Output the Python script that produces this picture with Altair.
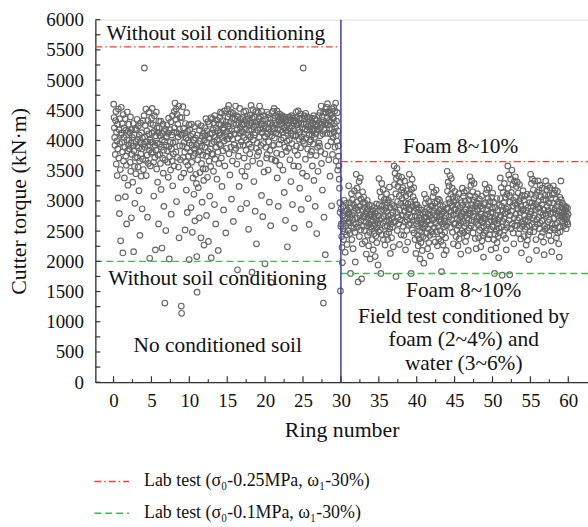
import altair as alt
import pandas as pd

FONT = "Liberation Serif"

# Cutter torque readings, in tens of kN·m, one list per ring (rings 0-29: no conditioning)
LEFT_TORQUE_10 = [
    [460, 438, 421, 405, 392, 377, 433, 448, 361, 414, 399, 342, 427, 386, 305, 452, 371, 418, 279, 395, 436, 352, 234, 409],
    [455, 412, 397, 428, 381, 214, 443, 366, 405, 421, 338, 389, 436, 307, 374, 417, 359, 262, 401, 447, 383, 326, 415, 392],
    [427, 401, 386, 413, 364, 439, 349, 396, 272, 418, 377, 405, 331, 391, 428, 216, 383, 409, 357, 296, 372, 420, 345, 398],
    [418, 391, 435, 372, 402, 356, 424, 388, 317, 409, 366, 243, 397, 429, 378, 341, 413, 386, 287, 404, 369, 433, 352, 394],
    [441, 520, 406, 389, 425, 367, 452, 342, 398, 416, 376, 273, 433, 391, 362, 411, 447, 384, 205, 401, 358, 428, 397, 379],
    [437, 412, 453, 381, 397, 426, 364, 308, 415, 441, 372, 392, 219, 408, 384, 447, 353, 421, 396, 331, 376, 413, 262, 432],
    [421, 394, 377, 408, 362, 432, 319, 389, 412, 222, 401, 371, 427, 346, 384, 291, 415, 398, 131, 368, 419, 251, 392, 406],
    [407, 426, 383, 364, 412, 339, 437, 390, 204, 373, 418, 397, 351, 431, 278, 386, 409, 366, 441, 325, 396, 378, 414, 358],
    [448, 421, 462, 398, 435, 381, 452, 299, 413, 443, 372, 427, 406, 356, 457, 239, 419, 391, 438, 368, 410, 339, 126, 114],
    [438, 409, 391, 456, 372, 420, 346, 397, 412, 381, 252, 428, 365, 404, 318, 446, 387, 281, 415, 359, 401, 374, 426, 203],
    [396, 418, 352, 381, 407, 289, 427, 364, 392, 248, 411, 338, 375, 401, 311, 386, 423, 267, 379, 404, 344, 392, 329, 208],
    [149, 409, 368, 428, 322, 395, 381, 272, 417, 347, 399, 383, 239, 424, 362, 391, 298, 407, 376, 353, 412, 334, 227, 401],
    [421, 389, 408, 353, 436, 374, 276, 416, 397, 339, 431, 382, 233, 404, 366, 427, 308, 411, 386, 357, 438, 206, 395, 378],
    [412, 436, 377, 418, 349, 429, 398, 294, 441, 369, 406, 262, 421, 389, 434, 336, 401, 416, 381, 218, 427, 362, 409, 394],
    [438, 413, 447, 392, 426, 371, 445, 324, 405, 433, 383, 418, 285, 421, 399, 449, 358, 426, 408, 247, 431, 387, 414, 402],
    [452, 424, 439, 403, 458, 378, 419, 444, 343, 408, 431, 389, 447, 303, 416, 437, 366, 402, 445, 266, 428, 393, 411, 384],
    [436, 411, 457, 387, 426, 441, 361, 418, 186, 404, 439, 374, 429, 324, 412, 453, 392, 422, 287, 435, 398, 416, 349, 427],
    [414, 438, 392, 426, 447, 371, 405, 433, 341, 419, 449, 384, 401, 296, 428, 440, 357, 409, 436, 253, 417, 394, 425, 378],
    [442, 406, 429, 458, 389, 418, 182, 437, 366, 451, 401, 423, 332, 439, 409, 431, 283, 413, 448, 387, 229, 426, 396, 375],
    [431, 417, 446, 381, 436, 406, 457, 362, 421, 439, 392, 427, 309, 448, 413, 433, 274, 419, 395, 441, 348, 424, 407, 196],
    [406, 435, 389, 421, 371, 447, 377, 411, 428, 351, 443, 398, 419, 298, 437, 384, 429, 259, 414, 165, 369, 408, 425, 392],
    [448, 419, 437, 392, 453, 404, 429, 367, 441, 412, 366, 426, 379, 449, 338, 419, 439, 291, 411, 431, 394, 444, 359, 417],
    [427, 438, 401, 433, 377, 441, 414, 429, 351, 436, 404, 421, 314, 439, 389, 431, 268, 417, 434, 382, 425, 399, 224, 412],
    [416, 438, 387, 428, 401, 439, 368, 421, 434, 332, 412, 441, 395, 424, 294, 437, 408, 429, 358, 419, 255, 432, 383, 407],
    [433, 408, 447, 391, 426, 438, 376, 418, 449, 357, 429, 402, 436, 321, 414, 444, 388, 427, 286, 437, 406, 421, 346, 399],
    [520, 427, 411, 441, 395, 436, 419, 369, 445, 404, 428, 341, 417, 439, 386, 423, 304, 436, 409, 261, 431, 398, 419, 376],
    [401, 425, 382, 437, 409, 358, 429, 416, 394, 441, 334, 419, 405, 436, 291, 427, 411, 375, 433, 246, 418, 389, 424, 349],
    [419, 441, 396, 429, 391, 446, 408, 421, 382, 457, 362, 427, 439, 318, 411, 433, 131, 447, 273, 417, 428, 378, 211, 452],
    [446, 429, 455, 412, 438, 461, 391, 426, 448, 368, 433, 419, 445, 341, 411, 442, 398, 431, 292, 419, 452, 377, 437, 405],
    [437, 455, 414, 428, 449, 389, 421, 462, 366, 408, 432, 399, 446, 351, 416, 391, 374, 358, 336, 321, 297, 281, 151, 258],
]

# Rings 30-59: field test conditioned by foam and water
RIGHT_TORQUE_10 = [
    [287, 262, 241, 223, 198, 276, 254, 291, 236, 268, 301, 249, 272, 215, 283, 259, 296, 244, 270, 228, 285, 263, 251, 278],
    [325, 281, 264, 297, 246, 273, 180, 289, 258, 312, 236, 277, 302, 269, 221, 294, 255, 283, 317, 248, 271, 199, 288, 262],
    [344, 298, 272, 321, 257, 285, 166, 309, 264, 332, 241, 291, 276, 338, 252, 303, 268, 171, 286, 229, 315, 274, 297, 258],
    [306, 274, 251, 289, 233, 296, 265, 278, 212, 284, 259, 301, 243, 271, 287, 226, 263, 293, 248, 276, 204, 282, 257, 269],
    [278, 253, 292, 236, 267, 284, 219, 258, 273, 246, 289, 261, 208, 279, 242, 268, 295, 231, 256, 283, 263, 194, 275, 249],
    [337, 294, 268, 315, 252, 283, 180, 306, 271, 329, 244, 292, 263, 319, 236, 285, 274, 302, 258, 227, 297, 266, 288, 245],
    [312, 283, 259, 297, 236, 275, 301, 248, 268, 323, 254, 289, 213, 277, 262, 306, 239, 271, 294, 257, 281, 224, 265, 292],
    [358, 327, 289, 346, 266, 312, 175, 337, 281, 354, 251, 299, 324, 273, 341, 262, 308, 228, 285, 331, 269, 296, 244, 318],
    [339, 304, 276, 322, 258, 291, 314, 243, 283, 333, 265, 297, 219, 308, 274, 289, 251, 317, 268, 232, 295, 279, 261, 286],
    [344, 312, 286, 327, 263, 298, 180, 319, 274, 336, 252, 291, 307, 268, 322, 247, 283, 301, 236, 275, 294, 213, 288, 262],
    [294, 267, 243, 281, 226, 258, 289, 237, 272, 251, 204, 277, 263, 231, 285, 248, 269, 218, 256, 279, 241, 262, 197, 273],
    [311, 282, 259, 296, 238, 273, 304, 247, 266, 289, 221, 278, 254, 299, 231, 268, 286, 243, 275, 209, 261, 292, 249, 271],
    [323, 291, 268, 307, 245, 283, 314, 256, 277, 296, 232, 288, 263, 318, 249, 274, 299, 226, 281, 258, 303, 237, 269, 284],
    [301, 274, 251, 286, 233, 268, 183, 279, 244, 262, 291, 227, 257, 283, 211, 271, 248, 266, 294, 239, 276, 218, 259, 287],
    [349, 316, 288, 331, 265, 303, 325, 274, 297, 342, 256, 311, 283, 337, 269, 292, 321, 248, 306, 277, 229, 298, 262, 285],
    [316, 287, 263, 301, 241, 278, 306, 252, 271, 294, 226, 283, 259, 312, 237, 268, 289, 246, 274, 212, 263, 297, 251, 279],
    [321, 293, 266, 308, 247, 282, 314, 258, 276, 299, 233, 287, 263, 317, 242, 272, 294, 251, 279, 218, 268, 302, 255, 284],
    [340, 308, 279, 326, 259, 294, 333, 268, 288, 315, 247, 301, 274, 329, 256, 283, 307, 238, 292, 266, 221, 297, 271, 286],
    [312, 284, 261, 296, 239, 273, 303, 251, 268, 291, 224, 279, 256, 308, 234, 265, 287, 243, 271, 207, 258, 294, 247, 276],
    [328, 297, 270, 313, 251, 286, 319, 262, 278, 304, 237, 292, 265, 322, 244, 274, 299, 253, 281, 219, 267, 306, 258, 288],
    [313, 281, 257, 298, 236, 271, 180, 266, 245, 289, 222, 277, 251, 304, 231, 262, 284, 241, 268, 206, 255, 293, 247, 273],
    [338, 304, 276, 322, 257, 291, 177, 284, 266, 314, 243, 297, 271, 329, 252, 279, 306, 238, 287, 219, 263, 311, 256, 282],
    [358, 321, 289, 343, 268, 309, 178, 298, 276, 336, 254, 314, 283, 351, 262, 292, 327, 247, 301, 229, 272, 333, 259, 296],
    [340, 306, 278, 324, 259, 293, 331, 268, 287, 313, 246, 299, 272, 327, 254, 281, 304, 237, 291, 214, 265, 309, 258, 284],
    [317, 286, 262, 302, 241, 276, 308, 253, 269, 293, 227, 284, 257, 311, 235, 266, 289, 244, 273, 203, 259, 297, 249, 278],
    [344, 311, 283, 329, 261, 297, 336, 272, 291, 318, 249, 304, 276, 333, 257, 286, 309, 236, 294, 218, 269, 314, 262, 289],
    [333, 299, 273, 318, 254, 288, 326, 263, 281, 307, 241, 294, 267, 321, 248, 277, 302, 232, 285, 211, 259, 309, 253, 279],
    [333, 302, 276, 319, 256, 291, 325, 265, 284, 309, 243, 297, 269, 322, 251, 279, 304, 234, 288, 216, 262, 311, 255, 281],
    [325, 296, 271, 313, 252, 286, 318, 261, 279, 303, 239, 292, 264, 316, 247, 275, 298, 229, 283, 207, 257, 306, 249, 276],
    [333, 302, 289, 281, 274, 296, 266, 287, 258, 279, 271, 292, 263, 285, 276, 269, 290, 254, 282, 273, 265, 288, 261, 278],
]

FIRST_LEFT_RING = 0
FIRST_RIGHT_RING = 30
BOUNDARY_RING = [30]

# Lab test reference lines (kN·m): red = sigma0 0.25 MPa, green = sigma0 0.1 MPa
SEG_START = [-2.4, 30]
SEG_END = [30, 62.6]
RED_LEVEL = [5550, 3650]
GREEN_LEVEL = [2000, 1800]

ANNOT_TEXT = ["Without soil conditioning", "Without soil conditioning", "No conditioned soil",
              "Foam 8~10%", "Foam 8~10%", "Field test conditioned by", "foam (2~4%) and", "water (3~6%)"]
ANNOT_RING = [13.5, 13.7, 13.75, 45.8, 46.2, 46.2, 46.2, 46.2]
ANNOT_TORQUE = [5662, 1605, 493, 3797, 1414, 986, 592, 197]

X_LABELS = list(range(0, 61, 5))
X_MINOR = [2.5 + 5 * i for i in range(12)]
Y_LABELS = list(range(0, 6001, 500))
Y_ALL_TICKS = list(range(0, 6001, 250))

LEGEND_TEXT = ["Lab test (σ₀-0.25MPa, ω₁-30%)", "Lab test (σ₀-0.1MPa, ω₁-30%)"]

RED = "#f0412d"
GREEN = "#45b84e"
PT = "#666666"
AX = "#333333"

rows = []
for k, vals in enumerate(LEFT_TORQUE_10):
    n = len(vals)
    for i, v in enumerate(vals):
        rows.append({"ring": FIRST_LEFT_RING + k + (i + 0.5) / n, "torque": v * 10})
for k, vals in enumerate(RIGHT_TORQUE_10):
    n = len(vals)
    for i, v in enumerate(vals):
        rows.append({"ring": FIRST_RIGHT_RING + k + (i + 0.5) / n, "torque": v * 10})
pts = pd.DataFrame(rows)

XSCALE = alt.Scale(domain=[-2.4, 62.6], nice=False, zero=False)
YSCALE = alt.Scale(domain=[0, 6000], nice=False)


def X(field, **kw):
    return alt.X(field, type="quantitative", scale=XSCALE, title="Ring number",
                 axis=alt.Axis(values=X_LABELS, format="d", ticks=False, grid=False, labelPadding=9,
                               titlePadding=10, domainColor=AX, domainWidth=1.3,
                               labelFont=FONT, titleFont=FONT, labelFontSize=19,
                               titleFontSize=22, titleFontWeight="normal",
                               labelColor="#111", titleColor="#111", labelFlush=False), **kw)


def Y(field, **kw):
    return alt.Y(field, type="quantitative", scale=YSCALE, title="Cutter torque (kN·m)",
                 axis=alt.Axis(values=Y_LABELS, format="d", ticks=False, grid=False, labelPadding=12,
                               titlePadding=15, domainColor=AX, domainWidth=1.3,
                               labelFont=FONT, titleFont=FONT, labelFontSize=19,
                               titleFontSize=22, titleFontWeight="normal",
                               labelColor="#111", titleColor="#111", labelFlush=False), **kw)


points = alt.Chart(pts).mark_point(shape="circle", filled=False, size=32, strokeWidth=1.15,
                                   color=PT, opacity=1).encode(x=X("ring"), y=Y("torque"))

seg = pd.DataFrame({"x0": SEG_START, "x1": SEG_END, "red": RED_LEVEL, "green": GREEN_LEVEL})
red_lines = alt.Chart(seg).mark_rule(color=RED, strokeWidth=1.3, strokeDash=[7, 3, 1.5, 3]).encode(
    x=X("x0"), x2="x1", y=Y("red"))
green_lines = alt.Chart(seg).mark_rule(color=GREEN, strokeWidth=1.4, strokeDash=[7, 4]).encode(
    x=X("x0"), x2="x1", y=Y("green"))

boundary = alt.Chart(pd.DataFrame({"b": BOUNDARY_RING})).mark_rule(color="#3d3d9c", strokeWidth=1.5).encode(
    x=X("b"))

annot = alt.Chart(pd.DataFrame({"t": ANNOT_TEXT, "x": ANNOT_RING, "y": ANNOT_TORQUE})).mark_text(
    font=FONT, fontSize=21.5, color="#111", align="center", baseline="alphabetic").encode(
    x=X("x"), y=Y("y"), text="t:N")

yticks = alt.Chart(pd.DataFrame({"v": Y_ALL_TICKS})).mark_rule(color=AX, strokeWidth=1.2).encode(
    y=Y("v"), x=alt.value(0), x2=alt.value(5))
xmajor = alt.Chart(pd.DataFrame({"v": X_LABELS})).mark_rule(color=AX, strokeWidth=1.2).encode(
    x=X("v"), y=alt.value(365), y2=alt.value(359))
xminor = alt.Chart(pd.DataFrame({"v": X_MINOR})).mark_rule(color=AX, strokeWidth=1.2).encode(
    x=X("v"), y=alt.value(365), y2=alt.value(362))

leg_red = alt.Chart(pd.DataFrame({"t": [LEGEND_TEXT[0]]})).mark_rule(
    color=RED, strokeWidth=1.4, strokeDash=[7, 3, 1.5, 3]).encode(
    x=alt.value(-1), x2=alt.value(34), y=alt.value(465))
leg_green = alt.Chart(pd.DataFrame({"t": [LEGEND_TEXT[1]]})).mark_rule(
    color=GREEN, strokeWidth=1.4, strokeDash=[7, 4]).encode(
    x=alt.value(-1), x2=alt.value(34), y=alt.value(497))
leg_t1 = alt.Chart(pd.DataFrame({"t": [LEGEND_TEXT[0]]})).mark_text(
    font=FONT, fontSize=18, color="#111", align="left", baseline="middle").encode(
    x=alt.value(49), y=alt.value(465), text="t:N")
leg_t2 = alt.Chart(pd.DataFrame({"t": [LEGEND_TEXT[1]]})).mark_text(
    font=FONT, fontSize=18, color="#111", align="left", baseline="middle").encode(
    x=alt.value(49), y=alt.value(497), text="t:N")

chart = alt.layer(points, red_lines, green_lines, boundary, annot, yticks, xmajor, xminor,
                  leg_red, leg_green, leg_t1, leg_t2).properties(
    width=496, height=365,
    autosize=alt.AutoSizeParams(type="none"),
    padding={"left": 96, "top": 18, "right": 0, "bottom": 144},
).configure_view(stroke=AX, strokeWidth=1.3).configure_axis(
    labelFont=FONT, titleFont=FONT).configure(background="white", font=FONT)

chart.save("out.html", embed_options={"renderer": "svg", "actions": False})
